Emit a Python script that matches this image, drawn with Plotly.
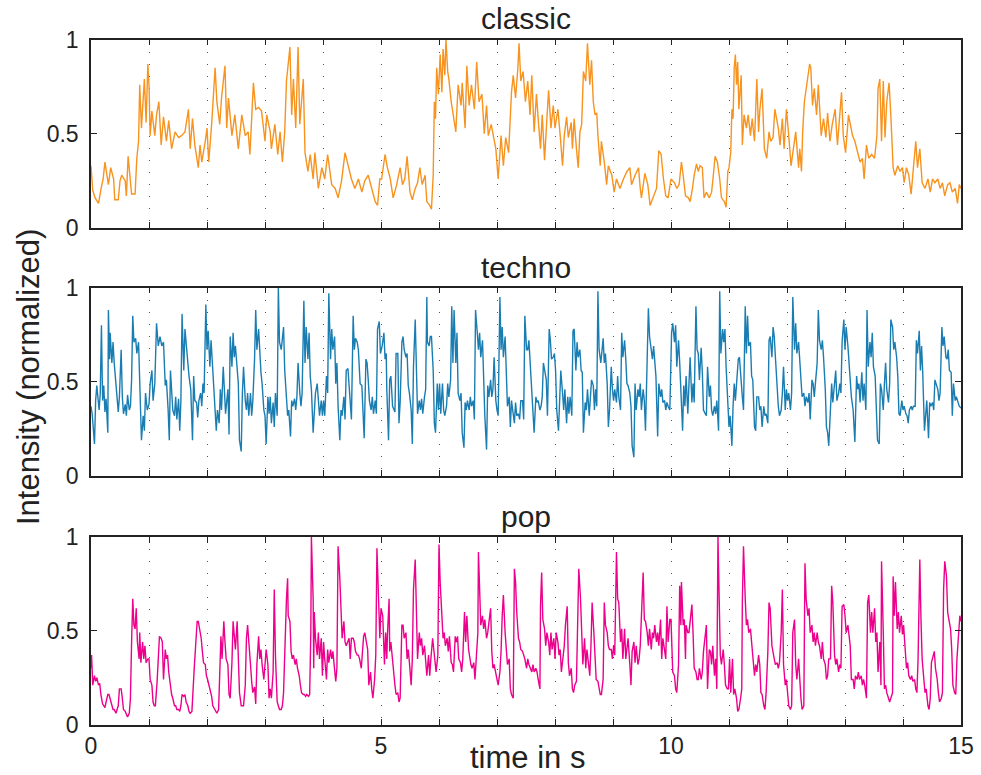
import plotly.graph_objects as go

# Normalized intensity envelopes, (time in s, intensity) samples per genre
CLASSIC = [
    (0.00, 0.33), (0.03, 0.20), (0.07, 0.16), (0.13, 0.13), (0.18, 0.22), (0.21, 0.26), (0.24, 0.35),
    (0.30, 0.23), (0.34, 0.32), (0.39, 0.26), (0.41, 0.15), (0.47, 0.15), (0.50, 0.25), (0.53, 0.28),
    (0.59, 0.25), (0.61, 0.17), (0.64, 0.38), (0.70, 0.18), (0.76, 0.18), (0.79, 0.37), (0.82, 0.46),
    (0.84, 0.76), (0.87, 0.53), (0.92, 0.79), (0.95, 0.56), (0.98, 0.87), (1.00, 0.76), (1.02, 0.49),
    (1.05, 0.62), (1.10, 0.49), (1.13, 0.60), (1.17, 0.67), (1.21, 0.44), (1.25, 0.59), (1.30, 0.46),
    (1.34, 0.57), (1.39, 0.42), (1.45, 0.51), (1.51, 0.48), (1.56, 0.49), (1.62, 0.51), (1.68, 0.63),
    (1.71, 0.42), (1.75, 0.58), (1.79, 0.44), (1.85, 0.32), (1.88, 0.44), (1.91, 0.35), (1.97, 0.46),
    (2.00, 0.53), (2.03, 0.35), (2.08, 0.55), (2.14, 0.85), (2.17, 0.67), (2.22, 0.55), (2.25, 0.69),
    (2.31, 0.86), (2.34, 0.53), (2.37, 0.69), (2.43, 0.49), (2.48, 0.60), (2.54, 0.42), (2.60, 0.60),
    (2.66, 0.49), (2.71, 0.51), (2.74, 0.39), (2.80, 0.77), (2.84, 0.63), (2.89, 0.64), (2.94, 0.62),
    (3.00, 0.46), (3.03, 0.60), (3.09, 0.51), (3.11, 0.42), (3.17, 0.55), (3.22, 0.39), (3.26, 0.51),
    (3.30, 0.35), (3.34, 0.51), (3.37, 0.78), (3.43, 0.96), (3.46, 0.60), (3.49, 0.79), (3.53, 0.53),
    (3.57, 0.96), (3.60, 0.55), (3.66, 0.79), (3.69, 0.40), (3.74, 0.30), (3.78, 0.39), (3.83, 0.26),
    (3.86, 0.40), (3.92, 0.21), (3.98, 0.32), (4.03, 0.26), (4.08, 0.39), (4.15, 0.23), (4.21, 0.21),
    (4.26, 0.16), (4.32, 0.25), (4.38, 0.40), (4.44, 0.33), (4.49, 0.26), (4.55, 0.21), (4.61, 0.26),
    (4.67, 0.19), (4.72, 0.25), (4.78, 0.28), (4.84, 0.21), (4.90, 0.14), (4.94, 0.12), (4.98, 0.26),
    (5.01, 0.26), (5.07, 0.39), (5.11, 0.32), (5.16, 0.26), (5.21, 0.16), (5.27, 0.23), (5.33, 0.32),
    (5.37, 0.23), (5.41, 0.26), (5.45, 0.38), (5.50, 0.19), (5.54, 0.15), (5.59, 0.21), (5.63, 0.24),
    (5.67, 0.32), (5.71, 0.23), (5.76, 0.28), (5.79, 0.14), (5.84, 0.12), (5.87, 0.10), (5.90, 0.28),
    (5.92, 0.67), (5.94, 0.58), (5.96, 0.85), (5.99, 0.71), (6.02, 0.92), (6.05, 0.72), (6.07, 0.95),
    (6.10, 0.81), (6.12, 1.00), (6.15, 0.83), (6.17, 0.79), (6.21, 0.67), (6.25, 0.60), (6.29, 0.51),
    (6.33, 0.76), (6.38, 0.65), (6.40, 0.77), (6.45, 0.53), (6.48, 0.86), (6.52, 0.65), (6.56, 0.76),
    (6.61, 0.63), (6.65, 0.88), (6.69, 0.67), (6.74, 0.71), (6.78, 0.50), (6.82, 0.65), (6.85, 0.49),
    (6.90, 0.55), (6.94, 0.49), (6.98, 0.42), (7.02, 0.26), (7.07, 0.49), (7.11, 0.33), (7.15, 0.48),
    (7.20, 0.40), (7.22, 0.51), (7.25, 0.72), (7.28, 0.81), (7.32, 0.69), (7.36, 0.85), (7.38, 0.98),
    (7.41, 0.78), (7.45, 0.83), (7.49, 0.67), (7.53, 0.78), (7.57, 0.60), (7.60, 0.81), (7.64, 0.51),
    (7.68, 0.71), (7.71, 0.58), (7.75, 0.42), (7.78, 0.60), (7.82, 0.36), (7.86, 0.58), (7.89, 0.73),
    (7.93, 0.53), (7.97, 0.65), (8.00, 0.53), (8.05, 0.63), (8.09, 0.49), (8.13, 0.33), (8.16, 0.49),
    (8.20, 0.59), (8.23, 0.48), (8.28, 0.56), (8.30, 0.42), (8.33, 0.58), (8.37, 0.42), (8.40, 0.32),
    (8.43, 0.51), (8.46, 0.55), (8.49, 0.83), (8.53, 0.78), (8.56, 0.98), (8.60, 0.76), (8.63, 0.89),
    (8.66, 0.67), (8.69, 0.60), (8.72, 0.61), (8.74, 0.49), (8.78, 0.33), (8.80, 0.46), (8.85, 0.35),
    (8.89, 0.23), (8.92, 0.33), (8.98, 0.28), (9.02, 0.19), (9.06, 0.26), (9.12, 0.21), (9.18, 0.26),
    (9.24, 0.30), (9.29, 0.32), (9.32, 0.23), (9.38, 0.28), (9.44, 0.32), (9.47, 0.21), (9.49, 0.16),
    (9.55, 0.29), (9.60, 0.23), (9.64, 0.12), (9.70, 0.17), (9.75, 0.21), (9.79, 0.41), (9.83, 0.39),
    (9.87, 0.26), (9.91, 0.17), (9.95, 0.16), (10.00, 0.26), (10.06, 0.24), (10.10, 0.21), (10.14, 0.23),
    (10.18, 0.35), (10.21, 0.28), (10.25, 0.17), (10.30, 0.16), (10.33, 0.14), (10.37, 0.21), (10.40, 0.28),
    (10.44, 0.34), (10.47, 0.30), (10.50, 0.33), (10.54, 0.32), (10.57, 0.16), (10.61, 0.19), (10.66, 0.16),
    (10.70, 0.19), (10.73, 0.28), (10.76, 0.38), (10.80, 0.35), (10.84, 0.26), (10.87, 0.16), (10.92, 0.14),
    (10.95, 0.11), (10.98, 0.30), (11.00, 0.32), (11.03, 0.40), (11.05, 0.63), (11.07, 0.58), (11.09, 0.85),
    (11.11, 0.92), (11.13, 0.76), (11.15, 0.88), (11.17, 0.63), (11.21, 0.81), (11.23, 0.44), (11.26, 0.60),
    (11.30, 0.53), (11.33, 0.60), (11.37, 0.49), (11.40, 0.58), (11.44, 0.46), (11.48, 0.79), (11.51, 0.51),
    (11.53, 0.62), (11.57, 0.74), (11.61, 0.42), (11.65, 0.37), (11.69, 0.51), (11.72, 0.46), (11.76, 0.48),
    (11.79, 0.63), (11.82, 0.58), (11.85, 0.53), (11.88, 0.44), (11.92, 0.58), (11.95, 0.42), (11.99, 0.63),
    (12.03, 0.49), (12.07, 0.33), (12.11, 0.42), (12.15, 0.51), (12.20, 0.32), (12.22, 0.42), (12.25, 0.30),
    (12.27, 0.51), (12.30, 0.67), (12.32, 0.71), (12.36, 0.81), (12.39, 0.87), (12.41, 0.85), (12.44, 0.65),
    (12.47, 0.74), (12.51, 0.60), (12.54, 0.76), (12.59, 0.49), (12.63, 0.58), (12.67, 0.48), (12.70, 0.61),
    (12.74, 0.46), (12.78, 0.55), (12.83, 0.63), (12.87, 0.44), (12.91, 0.60), (12.94, 0.72), (12.97, 0.49),
    (13.01, 0.40), (13.06, 0.60), (13.09, 0.55), (13.13, 0.49), (13.17, 0.46), (13.22, 0.39), (13.26, 0.35),
    (13.30, 0.37), (13.33, 0.26), (13.37, 0.44), (13.41, 0.37), (13.46, 0.39), (13.51, 0.37), (13.55, 0.49),
    (13.57, 0.74), (13.60, 0.79), (13.63, 0.46), (13.66, 0.78), (13.69, 0.48), (13.72, 0.67), (13.76, 0.77),
    (13.79, 0.60), (13.83, 0.32), (13.86, 0.28), (13.91, 0.33), (13.95, 0.30), (13.99, 0.32), (14.02, 0.24),
    (14.06, 0.32), (14.10, 0.28), (14.14, 0.18), (14.18, 0.32), (14.22, 0.46), (14.25, 0.32), (14.29, 0.42),
    (14.33, 0.24), (14.38, 0.21), (14.43, 0.26), (14.47, 0.19), (14.51, 0.26), (14.55, 0.24), (14.60, 0.26),
    (14.64, 0.21), (14.68, 0.24), (14.72, 0.17), (14.77, 0.23), (14.81, 0.24), (14.85, 0.19), (14.90, 0.21),
    (14.94, 0.13), (14.97, 0.23), (15.00, 0.21),
]

TECHNO = [
    (0.00, 0.37), (0.02, 0.33), (0.06, 0.17), (0.08, 0.40), (0.10, 0.48), (0.14, 0.35), (0.16, 0.44),
    (0.18, 0.80), (0.20, 0.40), (0.22, 0.48), (0.24, 0.34), (0.26, 0.41), (0.29, 0.23), (0.30, 0.88),
    (0.32, 0.62), (0.33, 0.76), (0.36, 0.60), (0.38, 0.71), (0.40, 0.60), (0.43, 0.49), (0.45, 0.37),
    (0.47, 0.34), (0.49, 0.42), (0.52, 0.67), (0.54, 0.42), (0.56, 0.33), (0.59, 0.38), (0.61, 0.32),
    (0.63, 0.43), (0.66, 0.35), (0.68, 0.37), (0.70, 0.51), (0.72, 0.85), (0.74, 0.71), (0.77, 0.73),
    (0.79, 0.65), (0.82, 0.71), (0.84, 0.44), (0.87, 0.19), (0.90, 0.32), (0.92, 0.24), (0.94, 0.44),
    (0.97, 0.35), (1.00, 0.38), (1.02, 0.49), (1.05, 0.56), (1.07, 0.40), (1.10, 0.49), (1.13, 0.81),
    (1.16, 0.69), (1.19, 0.74), (1.22, 0.69), (1.25, 0.71), (1.28, 0.48), (1.30, 0.51), (1.33, 0.35),
    (1.35, 0.19), (1.37, 0.56), (1.39, 0.42), (1.41, 0.35), (1.44, 0.32), (1.46, 0.42), (1.48, 0.30),
    (1.51, 0.41), (1.53, 0.24), (1.55, 0.40), (1.57, 0.86), (1.60, 0.56), (1.62, 0.78), (1.64, 0.69),
    (1.67, 0.60), (1.69, 0.53), (1.72, 0.46), (1.75, 0.19), (1.77, 0.53), (1.79, 0.40), (1.82, 0.39),
    (1.84, 0.31), (1.86, 0.40), (1.89, 0.44), (1.91, 0.37), (1.93, 0.49), (1.95, 0.44), (1.98, 0.91),
    (2.00, 0.67), (2.02, 0.77), (2.05, 0.58), (2.07, 0.72), (2.09, 0.60), (2.11, 0.49), (2.14, 0.32),
    (2.16, 0.24), (2.18, 0.35), (2.21, 0.28), (2.23, 0.46), (2.25, 0.35), (2.28, 0.58), (2.30, 0.42),
    (2.32, 0.33), (2.36, 0.46), (2.38, 0.22), (2.40, 0.74), (2.43, 0.58), (2.45, 0.76), (2.47, 0.63),
    (2.49, 0.69), (2.52, 0.56), (2.54, 0.49), (2.56, 0.19), (2.59, 0.13), (2.61, 0.44), (2.63, 0.58),
    (2.66, 0.40), (2.68, 0.35), (2.70, 0.44), (2.72, 0.32), (2.75, 0.44), (2.77, 0.32), (2.79, 0.40),
    (2.82, 0.62), (2.84, 0.88), (2.86, 0.67), (2.89, 0.78), (2.91, 0.62), (2.93, 0.55), (2.95, 0.49),
    (2.98, 0.35), (3.00, 0.32), (3.02, 0.17), (3.05, 0.42), (3.07, 0.33), (3.09, 0.42), (3.11, 0.28),
    (3.14, 0.39), (3.16, 0.26), (3.18, 0.44), (3.21, 0.32), (3.23, 1.00), (3.25, 0.71), (3.28, 0.67),
    (3.30, 0.73), (3.32, 0.79), (3.34, 0.56), (3.37, 0.44), (3.39, 0.32), (3.41, 0.35), (3.44, 0.21),
    (3.46, 0.40), (3.48, 0.37), (3.51, 0.41), (3.53, 0.35), (3.55, 0.42), (3.57, 0.60), (3.60, 0.44),
    (3.62, 0.37), (3.64, 0.44), (3.67, 0.93), (3.69, 0.60), (3.71, 0.79), (3.74, 0.62), (3.76, 0.76),
    (3.78, 0.53), (3.80, 0.46), (3.83, 0.23), (3.85, 0.32), (3.87, 0.44), (3.90, 0.49), (3.92, 0.41),
    (3.94, 0.32), (3.97, 0.40), (3.99, 0.32), (4.01, 0.40), (4.03, 0.32), (4.06, 0.53), (4.08, 0.44),
    (4.10, 0.97), (4.13, 0.62), (4.15, 0.78), (4.17, 0.67), (4.20, 0.74), (4.22, 0.49), (4.24, 0.60),
    (4.26, 0.37), (4.29, 0.19), (4.31, 0.35), (4.33, 0.32), (4.36, 0.42), (4.38, 0.30), (4.40, 0.56),
    (4.43, 0.57), (4.45, 0.46), (4.47, 0.42), (4.49, 0.30), (4.52, 0.85), (4.54, 0.67), (4.56, 0.73),
    (4.59, 0.71), (4.61, 0.67), (4.64, 0.49), (4.67, 0.48), (4.69, 0.35), (4.71, 0.20), (4.74, 0.62),
    (4.76, 0.60), (4.78, 0.51), (4.80, 0.40), (4.83, 0.35), (4.85, 0.42), (4.87, 0.33), (4.90, 0.40),
    (4.92, 0.33), (4.94, 0.78), (4.97, 0.82), (4.99, 0.65), (5.02, 0.69), (5.05, 0.76), (5.07, 0.62),
    (5.09, 0.65), (5.10, 0.46), (5.13, 0.19), (5.15, 0.51), (5.17, 0.53), (5.20, 0.37), (5.22, 0.35),
    (5.24, 0.34), (5.26, 0.65), (5.29, 0.65), (5.31, 0.28), (5.33, 0.39), (5.36, 0.71), (5.38, 0.74),
    (5.40, 0.67), (5.43, 0.63), (5.45, 0.65), (5.47, 0.48), (5.49, 0.44), (5.52, 0.35), (5.54, 0.17),
    (5.56, 0.58), (5.59, 0.83), (5.61, 0.56), (5.63, 0.33), (5.66, 0.40), (5.68, 0.35), (5.70, 0.41),
    (5.72, 0.33), (5.75, 0.42), (5.77, 0.46), (5.79, 0.95), (5.80, 0.71), (5.83, 0.69), (5.85, 0.74),
    (5.87, 0.74), (5.90, 0.56), (5.92, 0.28), (5.94, 0.23), (5.97, 0.49), (5.99, 0.35), (6.01, 0.49),
    (6.03, 0.33), (6.06, 0.49), (6.08, 0.35), (6.10, 0.32), (6.13, 0.37), (6.15, 0.49), (6.17, 0.42),
    (6.20, 0.51), (6.22, 0.90), (6.24, 0.60), (6.26, 0.88), (6.29, 0.60), (6.31, 0.76), (6.33, 0.44),
    (6.36, 0.40), (6.38, 0.44), (6.40, 0.23), (6.43, 0.15), (6.45, 0.39), (6.47, 0.35), (6.49, 0.40),
    (6.52, 0.35), (6.54, 0.42), (6.56, 0.37), (6.59, 0.40), (6.61, 0.30), (6.63, 0.88), (6.66, 0.76),
    (6.68, 0.67), (6.70, 0.76), (6.72, 0.63), (6.75, 0.72), (6.77, 0.49), (6.79, 0.32), (6.82, 0.14),
    (6.84, 0.48), (6.86, 0.42), (6.89, 0.51), (6.91, 0.42), (6.93, 0.46), (6.95, 0.63), (6.98, 0.40),
    (7.00, 0.35), (7.02, 0.32), (7.05, 0.95), (7.07, 0.67), (7.09, 0.79), (7.11, 0.63), (7.14, 0.74),
    (7.16, 0.56), (7.18, 0.37), (7.21, 0.42), (7.23, 0.26), (7.25, 0.40), (7.28, 0.33), (7.30, 0.28),
    (7.32, 0.39), (7.34, 0.32), (7.37, 0.33), (7.39, 0.30), (7.41, 0.40), (7.44, 0.40), (7.46, 0.30),
    (7.48, 0.85), (7.51, 0.67), (7.53, 0.67), (7.55, 0.72), (7.57, 0.60), (7.60, 0.49), (7.62, 0.35),
    (7.64, 0.23), (7.67, 0.42), (7.69, 0.39), (7.71, 0.40), (7.74, 0.35), (7.76, 0.37), (7.78, 0.42),
    (7.80, 0.60), (7.83, 0.55), (7.85, 0.51), (7.87, 0.32), (7.90, 0.78), (7.92, 0.72), (7.94, 0.62),
    (7.97, 0.63), (7.99, 0.65), (8.01, 0.56), (8.03, 0.35), (8.06, 0.24), (8.08, 0.42), (8.10, 0.56),
    (8.13, 0.44), (8.15, 0.35), (8.17, 0.46), (8.20, 0.28), (8.22, 0.42), (8.24, 0.33), (8.26, 0.42),
    (8.29, 0.32), (8.31, 0.77), (8.33, 0.78), (8.36, 0.56), (8.38, 0.71), (8.40, 0.63), (8.43, 0.67),
    (8.45, 0.56), (8.47, 0.55), (8.49, 0.23), (8.52, 0.39), (8.54, 0.35), (8.56, 0.46), (8.59, 0.32),
    (8.61, 0.44), (8.63, 0.51), (8.66, 0.48), (8.68, 0.35), (8.70, 0.46), (8.72, 0.37), (8.74, 0.98),
    (8.76, 0.67), (8.79, 0.60), (8.81, 0.67), (8.83, 0.73), (8.85, 0.60), (8.87, 0.65), (8.90, 0.49),
    (8.92, 0.26), (8.94, 0.35), (8.97, 0.58), (8.99, 0.46), (9.01, 0.40), (9.03, 0.46), (9.06, 0.39),
    (9.08, 0.53), (9.10, 0.42), (9.13, 0.35), (9.15, 0.76), (9.17, 0.63), (9.20, 0.72), (9.22, 0.62),
    (9.24, 0.49), (9.26, 0.48), (9.29, 0.44), (9.31, 0.37), (9.33, 0.16), (9.36, 0.10), (9.38, 0.49),
    (9.40, 0.35), (9.43, 0.46), (9.45, 0.42), (9.47, 0.49), (9.49, 0.35), (9.52, 0.46), (9.54, 0.40),
    (9.56, 0.24), (9.59, 0.63), (9.61, 0.89), (9.63, 0.74), (9.66, 0.67), (9.68, 0.62), (9.70, 0.69),
    (9.72, 0.58), (9.74, 0.53), (9.77, 0.21), (9.79, 0.49), (9.82, 0.42), (9.84, 0.46), (9.86, 0.39),
    (9.89, 0.40), (9.91, 0.35), (9.93, 0.39), (9.95, 0.37), (9.98, 0.35), (10.01, 0.76), (10.03, 0.81),
    (10.06, 0.71), (10.08, 0.80), (10.10, 0.58), (10.13, 0.72), (10.15, 0.60), (10.17, 0.44), (10.20, 0.24),
    (10.22, 0.48), (10.24, 0.37), (10.26, 0.53), (10.29, 0.33), (10.31, 0.49), (10.33, 0.63), (10.36, 0.39),
    (10.38, 0.49), (10.40, 0.39), (10.43, 0.90), (10.45, 0.67), (10.47, 0.65), (10.49, 0.51), (10.52, 0.68),
    (10.54, 0.55), (10.56, 0.35), (10.59, 0.33), (10.61, 0.32), (10.63, 0.58), (10.66, 0.42), (10.68, 0.48),
    (10.70, 0.35), (10.72, 0.32), (10.75, 0.37), (10.77, 0.33), (10.79, 0.40), (10.82, 0.24), (10.84, 0.98),
    (10.86, 0.65), (10.89, 0.78), (10.91, 0.71), (10.93, 0.78), (10.95, 0.58), (10.98, 0.33), (11.00, 0.26),
    (11.02, 0.32), (11.05, 0.16), (11.07, 0.37), (11.09, 0.49), (11.11, 0.40), (11.14, 0.51), (11.16, 0.62),
    (11.18, 0.63), (11.21, 0.48), (11.23, 0.42), (11.25, 0.35), (11.28, 0.90), (11.30, 0.65), (11.32, 0.85),
    (11.34, 0.69), (11.37, 0.71), (11.39, 0.53), (11.41, 0.51), (11.44, 0.26), (11.46, 0.24), (11.48, 0.42),
    (11.51, 0.42), (11.53, 0.35), (11.55, 0.37), (11.57, 0.26), (11.60, 0.37), (11.62, 0.32), (11.64, 0.33),
    (11.67, 0.28), (11.69, 0.72), (11.71, 0.74), (11.74, 0.63), (11.76, 0.79), (11.78, 0.74), (11.80, 0.63),
    (11.83, 0.46), (11.85, 0.37), (11.87, 0.32), (11.90, 0.35), (11.92, 0.44), (11.94, 0.58), (11.97, 0.35),
    (11.99, 0.46), (12.01, 0.40), (12.03, 0.44), (12.06, 0.35), (12.08, 0.44), (12.10, 0.95), (12.13, 0.67),
    (12.15, 0.81), (12.17, 0.65), (12.20, 0.71), (12.22, 0.62), (12.24, 0.49), (12.26, 0.42), (12.29, 0.44),
    (12.31, 0.37), (12.33, 0.42), (12.36, 0.39), (12.38, 0.44), (12.40, 0.30), (12.43, 0.51), (12.45, 0.49),
    (12.47, 0.42), (12.49, 0.49), (12.52, 0.60), (12.54, 0.88), (12.56, 0.72), (12.59, 0.67), (12.61, 0.72),
    (12.63, 0.63), (12.66, 0.46), (12.68, 0.26), (12.70, 0.23), (12.72, 0.16), (12.75, 0.39), (12.77, 0.49),
    (12.79, 0.39), (12.82, 0.48), (12.84, 0.56), (12.86, 0.40), (12.89, 0.44), (12.91, 0.49), (12.93, 0.44),
    (12.95, 0.71), (12.98, 0.83), (13.00, 0.67), (13.02, 0.79), (13.05, 0.69), (13.07, 0.60), (13.09, 0.49),
    (13.11, 0.42), (13.14, 0.35), (13.16, 0.24), (13.17, 0.18), (13.20, 0.53), (13.22, 0.46), (13.24, 0.49),
    (13.26, 0.39), (13.29, 0.55), (13.31, 0.40), (13.33, 0.49), (13.36, 0.35), (13.38, 0.88), (13.40, 0.58),
    (13.43, 0.71), (13.45, 0.63), (13.47, 0.76), (13.49, 0.58), (13.52, 0.53), (13.54, 0.40), (13.56, 0.19),
    (13.59, 0.17), (13.61, 0.49), (13.63, 0.46), (13.66, 0.35), (13.68, 0.49), (13.70, 0.60), (13.72, 0.46),
    (13.75, 0.39), (13.77, 0.49), (13.79, 0.83), (13.82, 0.79), (13.84, 0.67), (13.86, 0.71), (13.89, 0.63),
    (13.91, 0.53), (13.93, 0.33), (13.95, 0.32), (13.98, 0.40), (14.00, 0.35), (14.02, 0.37), (14.05, 0.33),
    (14.07, 0.32), (14.09, 0.28), (14.11, 0.35), (14.14, 0.37), (14.16, 0.35), (14.18, 0.37), (14.21, 0.37),
    (14.23, 0.72), (14.25, 0.65), (14.28, 0.77), (14.30, 0.56), (14.32, 0.69), (14.34, 0.55), (14.37, 0.24),
    (14.39, 0.32), (14.41, 0.40), (14.44, 0.20), (14.46, 0.39), (14.48, 0.37), (14.51, 0.39), (14.53, 0.35),
    (14.55, 0.51), (14.57, 0.49), (14.60, 0.46), (14.62, 0.40), (14.64, 0.44), (14.67, 0.79), (14.69, 0.69),
    (14.71, 0.74), (14.74, 0.63), (14.76, 0.62), (14.78, 0.67), (14.80, 0.56), (14.83, 0.55), (14.85, 0.32),
    (14.87, 0.49), (14.90, 0.40), (14.92, 0.42), (14.94, 0.40), (14.97, 0.37), (15.00, 0.36),
]

POP = [
    (0.00, 0.30), (0.01, 0.37), (0.03, 0.21), (0.06, 0.26), (0.08, 0.23), (0.10, 0.25), (0.13, 0.21),
    (0.15, 0.22), (0.17, 0.16), (0.20, 0.11), (0.22, 0.10), (0.24, 0.09), (0.26, 0.12), (0.29, 0.16),
    (0.31, 0.16), (0.33, 0.14), (0.36, 0.10), (0.38, 0.08), (0.40, 0.08), (0.43, 0.06), (0.45, 0.08),
    (0.47, 0.10), (0.49, 0.19), (0.52, 0.19), (0.54, 0.14), (0.56, 0.08), (0.59, 0.07), (0.61, 0.05),
    (0.63, 0.04), (0.66, 0.06), (0.68, 0.14), (0.70, 0.44), (0.72, 0.67), (0.74, 0.53), (0.76, 0.51),
    (0.78, 0.62), (0.80, 0.44), (0.83, 0.35), (0.84, 0.49), (0.86, 0.33), (0.89, 0.44), (0.91, 0.35),
    (0.93, 0.42), (0.95, 0.33), (0.98, 0.35), (1.00, 0.35), (1.02, 0.24), (1.05, 0.21), (1.07, 0.12),
    (1.09, 0.10), (1.11, 0.10), (1.14, 0.23), (1.16, 0.33), (1.18, 0.47), (1.21, 0.46), (1.23, 0.44),
    (1.25, 0.24), (1.28, 0.40), (1.30, 0.35), (1.32, 0.37), (1.34, 0.28), (1.37, 0.19), (1.39, 0.16),
    (1.41, 0.14), (1.44, 0.10), (1.46, 0.10), (1.48, 0.08), (1.51, 0.08), (1.53, 0.07), (1.55, 0.10),
    (1.57, 0.16), (1.60, 0.15), (1.62, 0.16), (1.64, 0.12), (1.67, 0.10), (1.69, 0.07), (1.71, 0.06),
    (1.74, 0.07), (1.76, 0.16), (1.78, 0.30), (1.80, 0.40), (1.83, 0.55), (1.85, 0.55), (1.87, 0.51),
    (1.90, 0.46), (1.92, 0.39), (1.94, 0.33), (1.97, 0.32), (1.99, 0.26), (2.01, 0.24), (2.03, 0.21),
    (2.06, 0.17), (2.08, 0.15), (2.10, 0.10), (2.13, 0.08), (2.15, 0.07), (2.17, 0.06), (2.20, 0.08),
    (2.22, 0.32), (2.24, 0.47), (2.26, 0.35), (2.29, 0.55), (2.31, 0.44), (2.33, 0.35), (2.36, 0.32),
    (2.38, 0.16), (2.40, 0.14), (2.43, 0.33), (2.45, 0.55), (2.47, 0.44), (2.49, 0.40), (2.52, 0.55),
    (2.54, 0.40), (2.56, 0.17), (2.59, 0.10), (2.61, 0.10), (2.63, 0.10), (2.66, 0.21), (2.68, 0.46),
    (2.70, 0.53), (2.72, 0.42), (2.75, 0.32), (2.77, 0.23), (2.79, 0.17), (2.82, 0.20), (2.84, 0.11),
    (2.86, 0.32), (2.89, 0.47), (2.91, 0.35), (2.93, 0.40), (2.95, 0.32), (2.98, 0.24), (3.00, 0.32),
    (3.02, 0.40), (3.05, 0.32), (3.07, 0.14), (3.09, 0.19), (3.11, 0.14), (3.14, 0.28), (3.16, 0.72),
    (3.18, 0.37), (3.21, 0.12), (3.23, 0.10), (3.25, 0.08), (3.28, 0.08), (3.30, 0.10), (3.32, 0.17),
    (3.34, 0.40), (3.37, 0.67), (3.39, 0.78), (3.40, 0.58), (3.43, 0.55), (3.45, 0.39), (3.47, 0.35),
    (3.49, 0.37), (3.52, 0.32), (3.54, 0.35), (3.56, 0.30), (3.59, 0.26), (3.61, 0.21), (3.63, 0.17),
    (3.66, 0.16), (3.68, 0.16), (3.70, 0.15), (3.72, 0.16), (3.75, 0.15), (3.77, 0.16), (3.79, 0.49),
    (3.80, 1.00), (3.83, 0.67), (3.84, 0.30), (3.85, 0.60), (3.87, 0.46), (3.90, 0.37), (3.92, 0.49),
    (3.94, 0.35), (3.97, 0.46), (3.99, 0.26), (4.01, 0.44), (4.03, 0.35), (4.06, 0.24), (4.08, 0.40),
    (4.10, 0.33), (4.13, 0.40), (4.15, 0.35), (4.17, 0.39), (4.20, 0.28), (4.22, 0.23), (4.24, 0.30),
    (4.26, 0.95), (4.29, 0.78), (4.31, 0.56), (4.33, 0.46), (4.36, 0.55), (4.38, 0.44), (4.40, 0.42),
    (4.43, 0.44), (4.45, 0.46), (4.47, 0.35), (4.49, 0.46), (4.52, 0.46), (4.54, 0.44), (4.56, 0.39),
    (4.59, 0.37), (4.61, 0.37), (4.63, 0.35), (4.66, 0.30), (4.68, 0.37), (4.70, 0.47), (4.72, 0.49),
    (4.74, 0.46), (4.77, 0.40), (4.79, 0.21), (4.82, 0.28), (4.84, 0.19), (4.86, 0.14), (4.89, 0.24),
    (4.91, 0.37), (4.93, 0.94), (4.95, 0.78), (4.98, 0.46), (5.00, 0.62), (5.03, 0.58), (5.06, 0.32),
    (5.08, 0.49), (5.10, 0.35), (5.11, 0.47), (5.14, 0.67), (5.15, 0.39), (5.17, 0.44), (5.20, 0.32),
    (5.22, 0.26), (5.24, 0.21), (5.26, 0.16), (5.29, 0.17), (5.31, 0.12), (5.33, 0.14), (5.36, 0.53),
    (5.38, 0.53), (5.40, 0.46), (5.43, 0.49), (5.45, 0.35), (5.47, 0.40), (5.49, 0.33), (5.52, 0.21),
    (5.54, 0.35), (5.56, 0.72), (5.59, 0.88), (5.61, 0.62), (5.63, 0.35), (5.66, 0.49), (5.68, 0.42),
    (5.70, 0.46), (5.72, 0.37), (5.75, 0.42), (5.77, 0.32), (5.79, 0.26), (5.82, 0.37), (5.84, 0.26),
    (5.86, 0.35), (5.89, 0.46), (5.91, 0.40), (5.93, 0.35), (5.95, 0.28), (5.98, 0.37), (6.00, 0.96),
    (6.02, 0.76), (6.05, 0.58), (6.07, 0.46), (6.09, 0.49), (6.11, 0.42), (6.14, 0.46), (6.16, 0.39),
    (6.18, 0.47), (6.21, 0.33), (6.23, 0.32), (6.25, 0.28), (6.28, 0.47), (6.30, 0.44), (6.32, 0.47),
    (6.34, 0.35), (6.37, 0.33), (6.39, 0.28), (6.41, 0.35), (6.44, 0.60), (6.46, 0.44), (6.48, 0.58),
    (6.51, 0.40), (6.53, 0.35), (6.55, 0.32), (6.57, 0.30), (6.60, 0.33), (6.62, 0.24), (6.64, 0.32),
    (6.67, 0.49), (6.68, 0.92), (6.70, 0.74), (6.72, 0.53), (6.75, 0.58), (6.77, 0.51), (6.79, 0.56),
    (6.82, 0.46), (6.84, 0.49), (6.86, 0.56), (6.89, 0.62), (6.91, 0.39), (6.93, 0.30), (6.95, 0.32),
    (6.98, 0.28), (7.00, 0.24), (7.02, 0.21), (7.05, 0.28), (7.07, 0.39), (7.09, 0.58), (7.11, 0.69),
    (7.14, 0.49), (7.16, 0.42), (7.18, 0.32), (7.21, 0.35), (7.23, 0.19), (7.25, 0.16), (7.28, 0.14),
    (7.30, 0.83), (7.32, 0.76), (7.34, 0.60), (7.37, 0.46), (7.39, 0.44), (7.41, 0.40), (7.44, 0.39),
    (7.46, 0.37), (7.48, 0.35), (7.51, 0.30), (7.53, 0.35), (7.55, 0.32), (7.57, 0.30), (7.60, 0.28),
    (7.62, 0.32), (7.64, 0.28), (7.67, 0.30), (7.69, 0.28), (7.71, 0.24), (7.74, 0.19), (7.75, 0.63),
    (7.77, 0.81), (7.79, 0.56), (7.82, 0.51), (7.84, 0.42), (7.86, 0.49), (7.89, 0.44), (7.91, 0.37),
    (7.93, 0.49), (7.95, 0.40), (7.98, 0.46), (8.00, 0.35), (8.02, 0.49), (8.05, 0.44), (8.07, 0.37),
    (8.09, 0.40), (8.11, 0.28), (8.14, 0.35), (8.16, 0.42), (8.18, 0.53), (8.21, 0.63), (8.23, 0.33),
    (8.25, 0.26), (8.28, 0.30), (8.30, 0.19), (8.32, 0.17), (8.34, 0.21), (8.37, 0.23), (8.39, 0.46),
    (8.41, 0.83), (8.44, 0.67), (8.46, 0.49), (8.48, 0.32), (8.51, 0.46), (8.53, 0.30), (8.55, 0.40),
    (8.57, 0.35), (8.60, 0.26), (8.62, 0.42), (8.64, 0.65), (8.67, 0.49), (8.69, 0.35), (8.71, 0.24),
    (8.74, 0.23), (8.76, 0.19), (8.78, 0.16), (8.80, 0.16), (8.83, 0.24), (8.85, 0.65), (8.87, 0.53),
    (8.90, 0.49), (8.92, 0.42), (8.94, 0.40), (8.97, 0.40), (8.99, 0.35), (9.01, 0.42), (9.03, 0.37),
    (9.06, 0.92), (9.08, 0.67), (9.10, 0.65), (9.13, 0.44), (9.15, 0.51), (9.17, 0.35), (9.20, 0.51),
    (9.22, 0.35), (9.24, 0.42), (9.26, 0.46), (9.29, 0.32), (9.31, 0.21), (9.33, 0.39), (9.36, 0.44),
    (9.38, 0.33), (9.40, 0.42), (9.43, 0.32), (9.45, 0.35), (9.47, 0.42), (9.49, 0.56), (9.52, 0.81),
    (9.54, 0.56), (9.56, 0.55), (9.59, 0.49), (9.61, 0.42), (9.63, 0.51), (9.66, 0.40), (9.68, 0.49),
    (9.70, 0.46), (9.72, 0.53), (9.75, 0.44), (9.77, 0.49), (9.79, 0.42), (9.82, 0.56), (9.84, 0.35),
    (9.86, 0.46), (9.89, 0.40), (9.91, 0.35), (9.93, 0.63), (9.95, 0.44), (9.98, 0.56), (10.00, 0.56),
    (10.03, 0.28), (10.06, 0.26), (10.08, 0.19), (10.10, 0.17), (10.13, 0.32), (10.15, 0.74), (10.17, 0.53),
    (10.18, 0.76), (10.21, 0.53), (10.23, 0.56), (10.25, 0.35), (10.26, 0.53), (10.29, 0.49), (10.31, 0.49),
    (10.33, 0.55), (10.36, 0.64), (10.38, 0.49), (10.40, 0.30), (10.43, 0.28), (10.45, 0.24), (10.47, 0.24),
    (10.49, 0.30), (10.52, 0.24), (10.54, 0.28), (10.56, 0.39), (10.59, 0.47), (10.61, 0.53), (10.63, 0.19),
    (10.66, 0.40), (10.68, 0.39), (10.70, 0.32), (10.72, 0.42), (10.75, 0.26), (10.77, 0.35), (10.79, 0.19),
    (10.81, 1.00), (10.83, 0.67), (10.85, 0.37), (10.87, 0.32), (10.90, 0.40), (10.92, 0.32), (10.94, 0.21),
    (10.97, 0.19), (10.99, 0.19), (11.01, 0.35), (11.03, 0.17), (11.06, 0.35), (11.08, 0.16), (11.10, 0.19),
    (11.13, 0.14), (11.15, 0.07), (11.17, 0.08), (11.20, 0.14), (11.22, 0.19), (11.23, 0.65), (11.25, 0.95),
    (11.28, 0.67), (11.30, 0.53), (11.32, 0.56), (11.34, 0.49), (11.37, 0.51), (11.39, 0.44), (11.41, 0.39),
    (11.44, 0.26), (11.46, 0.32), (11.48, 0.28), (11.51, 0.37), (11.53, 0.32), (11.55, 0.17), (11.57, 0.16),
    (11.60, 0.10), (11.62, 0.08), (11.64, 0.17), (11.67, 0.39), (11.69, 0.65), (11.71, 0.62), (11.74, 0.42),
    (11.76, 0.37), (11.78, 0.35), (11.80, 0.32), (11.83, 0.33), (11.85, 0.30), (11.87, 0.33), (11.90, 0.49),
    (11.92, 0.72), (11.94, 0.32), (11.97, 0.21), (11.99, 0.24), (12.01, 0.14), (12.03, 0.10), (12.06, 0.08),
    (12.08, 0.10), (12.10, 0.49), (12.13, 0.56), (12.15, 0.32), (12.17, 0.24), (12.20, 0.35), (12.22, 0.23),
    (12.24, 0.14), (12.26, 0.08), (12.29, 0.10), (12.31, 0.86), (12.33, 0.67), (12.36, 0.58), (12.38, 0.62),
    (12.40, 0.49), (12.43, 0.53), (12.45, 0.44), (12.47, 0.49), (12.49, 0.42), (12.52, 0.49), (12.54, 0.44),
    (12.56, 0.42), (12.59, 0.35), (12.61, 0.44), (12.63, 0.35), (12.66, 0.32), (12.68, 0.24), (12.70, 0.26),
    (12.72, 0.35), (12.75, 0.35), (12.77, 0.74), (12.79, 0.65), (12.82, 0.37), (12.84, 0.32), (12.86, 0.35),
    (12.89, 0.28), (12.91, 0.32), (12.93, 0.30), (12.95, 0.63), (12.98, 0.64), (13.00, 0.58), (13.02, 0.49),
    (13.05, 0.53), (13.07, 0.48), (13.09, 0.42), (13.11, 0.24), (13.14, 0.24), (13.16, 0.19), (13.18, 0.26),
    (13.21, 0.24), (13.23, 0.28), (13.25, 0.24), (13.28, 0.26), (13.30, 0.21), (13.32, 0.24), (13.34, 0.21),
    (13.37, 0.14), (13.39, 0.65), (13.41, 0.69), (13.44, 0.49), (13.46, 0.60), (13.48, 0.49), (13.51, 0.62),
    (13.53, 0.44), (13.55, 0.49), (13.57, 0.28), (13.60, 0.44), (13.62, 0.21), (13.63, 0.87), (13.66, 0.49),
    (13.68, 0.19), (13.70, 0.21), (13.72, 0.17), (13.75, 0.14), (13.77, 0.12), (13.79, 0.14), (13.82, 0.17),
    (13.83, 0.79), (13.85, 0.58), (13.87, 0.76), (13.90, 0.51), (13.92, 0.60), (13.94, 0.49), (13.97, 0.58),
    (13.99, 0.48), (14.01, 0.53), (14.03, 0.44), (14.06, 0.30), (14.08, 0.33), (14.10, 0.26), (14.13, 0.24),
    (14.15, 0.26), (14.17, 0.23), (14.20, 0.24), (14.22, 0.19), (14.24, 0.17), (14.26, 0.35), (14.29, 0.88),
    (14.31, 0.56), (14.33, 0.35), (14.36, 0.24), (14.38, 0.17), (14.40, 0.19), (14.43, 0.10), (14.45, 0.08),
    (14.47, 0.14), (14.49, 0.33), (14.52, 0.37), (14.54, 0.39), (14.56, 0.30), (14.59, 0.24), (14.61, 0.17),
    (14.63, 0.12), (14.66, 0.14), (14.68, 0.17), (14.70, 0.72), (14.72, 0.87), (14.75, 0.79), (14.77, 0.60),
    (14.79, 0.56), (14.82, 0.51), (14.84, 0.40), (14.86, 0.21), (14.89, 0.17), (14.91, 0.16), (14.93, 0.35),
    (14.95, 0.44), (14.98, 0.58), (15.00, 0.55),
]

GENRES = ["classic", "techno", "pop"]
COLORS = ["#F7931E", "#1A7DB2", "#EC008C"]
SECONDS = list(range(0, 16))
LABELED_SECONDS = [0, 5, 10, 15]
Y_TICKS = [0, 0.5, 1]
Y_TICK_TEXT = ["0", "0.5", "1"]

W, H = 981, 775
LEFT, RIGHT = 91, 961
PANELS = [(39.5, 228.0), (287.5, 476.0), (537.0, 724.5)]  # top/bottom in px
FONT = "Liberation Sans, Arial, Helvetica, sans-serif"
INK = "#222222"

fig = go.Figure()
layout = dict(
    template="none",
    width=W, height=H, autosize=False,
    margin=dict(l=0, r=0, t=0, b=0, pad=0, autoexpand=False),
    paper_bgcolor="white", plot_bgcolor="white",
    showlegend=False,
    font=dict(family=FONT, color=INK),
    annotations=[],
)

for i, (name, samples, color) in enumerate(zip(GENRES, [CLASSIC, TECHNO, POP], COLORS)):
    suffix = "" if i == 0 else str(i + 1)
    t = [s[0] for s in samples]
    v = [s[1] for s in samples]
    fig.add_trace(go.Scatter(
        x=t, y=v, mode="lines",
        line=dict(color=color, width=1.4),
        xaxis="x" + suffix, yaxis="y" + suffix,
        hoverinfo="skip",
    ))
    top, bottom = PANELS[i]
    last = i == len(GENRES) - 1
    ticktext = [str(s) if (last and s in LABELED_SECONDS) else "" for s in SECONDS]
    layout["xaxis" + suffix] = dict(
        domain=[LEFT / W, RIGHT / W], range=[0, 15], anchor="y" + suffix,
        automargin=False,
        showline=True, mirror="ticks", linecolor=INK, linewidth=1.5,
        ticks="inside", ticklen=6, tickwidth=1, tickcolor=INK,
        tickmode="array", tickvals=SECONDS, ticktext=ticktext,
        tickfont=dict(size=23, family=FONT, color=INK),
        showgrid=True, gridcolor="#555555", gridwidth=1, griddash="1px,11px",
        zeroline=False, fixedrange=True,
    )
    layout["yaxis" + suffix] = dict(
        domain=[1 - bottom / H, 1 - top / H], range=[0, 1], anchor="x" + suffix,
        automargin=False,
        showline=True, mirror="ticks", linecolor=INK, linewidth=1.5,
        ticks="inside", ticklen=6, tickwidth=1, tickcolor=INK,
        tickmode="array", tickvals=Y_TICKS, ticktext=Y_TICK_TEXT,
        tickfont=dict(size=23, family=FONT, color=INK), ticklabelstandoff=6,
        showgrid=False, zeroline=False, fixedrange=True,
    )
    layout["annotations"].append(dict(
        text=name, xref="paper", yref="paper",
        x=(LEFT + RIGHT) / 2 / W, y=1 - (top - 2) / H,
        xanchor="center", yanchor="bottom", showarrow=False,
        font=dict(size=30, family=FONT, color=INK),
    ))

layout["annotations"].append(dict(
    text="time in s", xref="paper", yref="paper",
    x=527 / W, y=1 - 757 / H, xanchor="center", yanchor="middle",
    showarrow=False, font=dict(size=31, family=FONT, color=INK),
))
layout["annotations"].append(dict(
    text="Intensity (normalized)", xref="paper", yref="paper",
    x=28 / W, y=1 - 377 / H, xanchor="center", yanchor="middle", textangle=-90,
    showarrow=False, font=dict(size=31, family=FONT, color=INK),
))

fig.update_layout(**layout)
fig.write_html("out.html")
